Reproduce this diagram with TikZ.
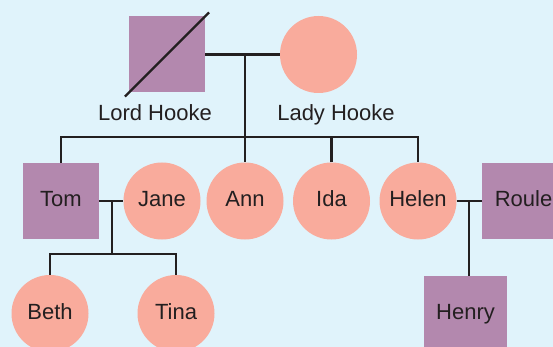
\documentclass[tikz,border=0pt]{standalone}
\usepackage{fontspec}
\setmainfont{Liberation Sans}
\usetikzlibrary{positioning,calc}
\definecolor{bgblue}{HTML}{E0F3FB}
\definecolor{malec}{HTML}{B388AE}
\definecolor{femc}{HTML}{F9AB9C}
\definecolor{ink}{HTML}{231F20}
\tikzset{
  male/.style={rectangle,fill=malec,minimum size=76pt,inner sep=0pt,
               font=\fontsize{22}{24}\selectfont,text=ink,
               text height=11.5pt,text depth=0pt},
  female/.style={circle,fill=femc,minimum size=77pt,inner sep=0pt,
                 font=\fontsize{22}{24}\selectfont,text=ink,
                 text height=11.5pt,text depth=0pt},
  nm/.style={font=\fontsize{22}{24}\selectfont,text=ink,inner sep=0pt,anchor=base},
  ln/.style={draw=ink,line width=2.3pt},
}

\begin{document}
\begin{tikzpicture}[x=1pt,y=-1pt]
\fill[bgblue] (0,0) rectangle (553,347);
\useasboundingbox (0,0) rectangle (553,347);
% grandparents
\node[male] (lord) at (167,54.5) {};
\node[female] (lady) at (318.5,54.5) {};
\node[nm] (lordlbl) at (155,120.5) {Lord Hooke};
\node[nm] (ladylbl) at (336,120.5) {Lady Hooke};
\draw[ln] ($(lord.south west)!-0.05!(lord.north east)$) -- ($(lord.north east)!-0.05!(lord.south west)$);
% children
\node[male] (tom) at (61,201) {Tom};
\node[female] (jane) at (162,201) {Jane};
\node[female] (ann) at (245,201) {Ann};
\node[female] (ida) at (331.5,201) {Ida};
\node[female] (helen) at (418,201) {Helen};
\node[male,minimum width=83pt] (roule) at (523.5,201) {Roule};
% grandchildren
\node[female] (beth) at (50,313.5) {Beth};
\node[female] (tina) at (176,313.5) {Tina};
\node[male,minimum width=83pt] (henry) at (465.5,314) {Henry};
% lines
\draw[ln] (lord.east) -- (lady.west);
\coordinate (m1) at (ann |- lord.east);
\coordinate (sib) at (245,137);
\draw[ln] (m1) -- (ann.north);
\draw[ln] (tom.north) |- (sib) -| (helen.north);
\draw[ln] (ida.north) -- (ida.north |- sib);
\draw[ln] (tom.east) -- (jane.west);
\coordinate (m2) at ($(tom.east)!0.53!(jane.west)$);
\coordinate (kids2) at (m2 |- 0,254);
\draw[ln] (m2) -- (kids2);
\draw[ln] (beth.north) |- (kids2) -| (tina.north);
\draw[ln] (helen.east) -- (roule.west);
\coordinate (m3) at (469,201);
\draw[ln] (m3) -- (m3 |- henry.north);
\end{tikzpicture}
\end{document}
